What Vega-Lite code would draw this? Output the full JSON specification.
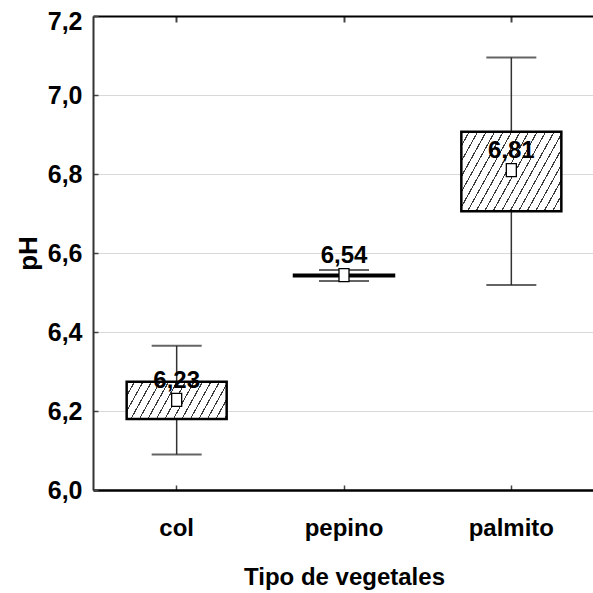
{
  "$schema": "https://vega.github.io/schema/vega-lite/v6.json",
  "width": 502,
  "height": 474,
  "autosize": {"type": "none"},
  "padding": {"left": 93, "top": 16, "right": 0, "bottom": 103},
  "background": "white",
  "config": {
    "locale": {"number": {"decimal": ",", "thousands": ".", "grouping": [3], "currency": ["", " €"]}},
    "view": {"stroke": null},
    "font": "Liberation Sans",
    "axisY": {
      "orient": "left", "tickCount": 7, "format": ".1f", "grid": true, "gridColor": "#d9d9d9", "gridWidth": 1.2,
      "tickSize": -5, "tickColor": "#444444", "tickWidth": 1.5, "domainColor": "#333333", "domainWidth": 2,
      "labelFontSize": 25, "labelFontWeight": "bold", "labelColor": "black", "labelPadding": 16,
      "labelOffset": {"condition": {"test": "datum.value > 7.1", "value": 5}, "value": 0},
      "labelFont": "Liberation Sans", "labelOverlap": false,
      "titleFontSize": 26, "titleFontWeight": "bold", "titleColor": "black", "titleFont": "Liberation Sans",
      "titleAngle": -90, "titleBaseline": "alphabetic", "titleX": -57, "titleY": 237, "titleAlign": "center"
    }
  },
  "data": {
    "values": [
      {"tipo": "col", "min": 6.09, "q1": 6.18, "q3": 6.274, "max": 6.365, "mean": 6.228},
      {"tipo": "pepino", "min": 6.529, "q1": 6.541, "q3": 6.545, "max": 6.557, "mean": 6.544},
      {"tipo": "palmito", "min": 6.519, "q1": 6.706, "q3": 6.907, "max": 7.095, "mean": 6.81}
    ]
  },
  "layer": [
    {
      "mark": {"type": "rule", "color": "#333333", "strokeWidth": 1.5},
      "encoding": {
        "x": {"field": "tipo", "type": "nominal", "sort": ["col", "pepino", "palmito"],
          "scale": {"paddingInner": 0, "paddingOuter": 0},
          "axis": {"orient": "bottom", "labelAngle": 0, "labelFontSize": 24, "labelFontWeight": "bold", "labelColor": "black",
            "labelFont": "Liberation Sans",
            "labelBaseline": "alphabetic", "labelPadding": 50, "tickSize": -5, "tickColor": "#444444", "tickWidth": 1.5,
            "domainColor": "black", "domainWidth": 2.5, "grid": false,
            "title": "Tipo de vegetales", "titleFontSize": 24, "titleFontWeight": "bold", "titleColor": "black",
            "titleFont": "Liberation Sans",
            "titleBaseline": "alphabetic", "titleY": 94, "titleX": 251}},
        "y": {"field": "min", "type": "quantitative", "title": "pH", "scale": {"domain": [6.0, 7.2], "nice": false, "zero": false}},
        "y2": {"field": "max"}
      }
    },
    {
      "mark": {"type": "tick", "orient": "horizontal", "size": 50, "thickness": 2, "color": "#222222"},
      "encoding": {
        "x": {"field": "tipo", "type": "nominal", "sort": ["col", "pepino", "palmito"],
          "axis": {"orient": "top", "labels": false, "title": null, "grid": false, "tickSize": -6, "tickColor": "#444444", "tickWidth": 2,
            "domainColor": "black", "domainWidth": 2}},
        "y": {"field": "min", "type": "quantitative", "title": "pH"}
      }
    },
    {
      "mark": {"type": "tick", "orient": "horizontal", "size": 50, "thickness": 2, "color": "#222222"},
      "encoding": {
        "x": {"field": "tipo", "type": "nominal", "sort": ["col", "pepino", "palmito"], "axis": null},
        "y": {"field": "max", "type": "quantitative", "title": "pH"}
      }
    },
    {
      "transform": [{"filter": "datum.tipo === 'col'"}],
      "mark": {"type": "bar", "size": 100, "stroke": "black", "strokeWidth": 2.5,
        "fill": {"gradient": "linear", "x1": 0, "y1": 0, "x2": 1.4676, "y2": 0.30272,
          "stops": [
            {"offset": 0, "color": "#ffffff"}, {"offset": 0.0472, "color": "#ffffff"}, {"offset": 0.0472, "color": "#3a3a3a"}, {"offset": 0.0556, "color": "#3a3a3a"},
            {"offset": 0.0556, "color": "#ffffff"}, {"offset": 0.1028, "color": "#ffffff"}, {"offset": 0.1028, "color": "#3a3a3a"}, {"offset": 0.1111, "color": "#3a3a3a"},
            {"offset": 0.1111, "color": "#ffffff"}, {"offset": 0.1583, "color": "#ffffff"}, {"offset": 0.1583, "color": "#3a3a3a"}, {"offset": 0.1667, "color": "#3a3a3a"},
            {"offset": 0.1667, "color": "#ffffff"}, {"offset": 0.2139, "color": "#ffffff"}, {"offset": 0.2139, "color": "#3a3a3a"}, {"offset": 0.2222, "color": "#3a3a3a"},
            {"offset": 0.2222, "color": "#ffffff"}, {"offset": 0.2694, "color": "#ffffff"}, {"offset": 0.2694, "color": "#3a3a3a"}, {"offset": 0.2778, "color": "#3a3a3a"},
            {"offset": 0.2778, "color": "#ffffff"}, {"offset": 0.325, "color": "#ffffff"}, {"offset": 0.325, "color": "#3a3a3a"}, {"offset": 0.3333, "color": "#3a3a3a"},
            {"offset": 0.3333, "color": "#ffffff"}, {"offset": 0.3806, "color": "#ffffff"}, {"offset": 0.3806, "color": "#3a3a3a"}, {"offset": 0.3889, "color": "#3a3a3a"},
            {"offset": 0.3889, "color": "#ffffff"}, {"offset": 0.4361, "color": "#ffffff"}, {"offset": 0.4361, "color": "#3a3a3a"}, {"offset": 0.4444, "color": "#3a3a3a"},
            {"offset": 0.4444, "color": "#ffffff"}, {"offset": 0.4917, "color": "#ffffff"}, {"offset": 0.4917, "color": "#3a3a3a"}, {"offset": 0.5, "color": "#3a3a3a"},
            {"offset": 0.5, "color": "#ffffff"}, {"offset": 0.5472, "color": "#ffffff"}, {"offset": 0.5472, "color": "#3a3a3a"}, {"offset": 0.5556, "color": "#3a3a3a"},
            {"offset": 0.5556, "color": "#ffffff"}, {"offset": 0.6028, "color": "#ffffff"}, {"offset": 0.6028, "color": "#3a3a3a"}, {"offset": 0.6111, "color": "#3a3a3a"},
            {"offset": 0.6111, "color": "#ffffff"}, {"offset": 0.6583, "color": "#ffffff"}, {"offset": 0.6583, "color": "#3a3a3a"}, {"offset": 0.6667, "color": "#3a3a3a"},
            {"offset": 0.6667, "color": "#ffffff"}, {"offset": 0.7139, "color": "#ffffff"}, {"offset": 0.7139, "color": "#3a3a3a"}, {"offset": 0.7222, "color": "#3a3a3a"},
            {"offset": 0.7222, "color": "#ffffff"}, {"offset": 0.7694, "color": "#ffffff"}, {"offset": 0.7694, "color": "#3a3a3a"}, {"offset": 0.7778, "color": "#3a3a3a"},
            {"offset": 0.7778, "color": "#ffffff"}, {"offset": 0.825, "color": "#ffffff"}, {"offset": 0.825, "color": "#3a3a3a"}, {"offset": 0.8333, "color": "#3a3a3a"},
            {"offset": 0.8333, "color": "#ffffff"}, {"offset": 0.8806, "color": "#ffffff"}, {"offset": 0.8806, "color": "#3a3a3a"}, {"offset": 0.8889, "color": "#3a3a3a"},
            {"offset": 0.8889, "color": "#ffffff"}, {"offset": 0.9361, "color": "#ffffff"}, {"offset": 0.9361, "color": "#3a3a3a"}, {"offset": 0.9444, "color": "#3a3a3a"},
            {"offset": 0.9444, "color": "#ffffff"}, {"offset": 0.9917, "color": "#ffffff"}, {"offset": 0.9917, "color": "#3a3a3a"}, {"offset": 1, "color": "#3a3a3a"}
          ]}},
      "encoding": {
        "x": {"field": "tipo", "type": "nominal", "sort": ["col", "pepino", "palmito"], "axis": null},
        "y": {"field": "q1", "type": "quantitative", "title": "pH"},
        "y2": {"field": "q3"}
      }
    },
    {
      "transform": [{"filter": "datum.tipo === 'pepino'"}],
      "mark": {"type": "bar", "size": 100, "stroke": "black", "strokeWidth": 2.5, "fill": "#555555"},
      "encoding": {
        "x": {"field": "tipo", "type": "nominal", "sort": ["col", "pepino", "palmito"], "axis": null},
        "y": {"field": "q1", "type": "quantitative", "title": "pH"},
        "y2": {"field": "q3"}
      }
    },
    {
      "transform": [{"filter": "datum.tipo === 'palmito'"}],
      "mark": {"type": "bar", "size": 100, "stroke": "black", "strokeWidth": 2.5,
        "fill": {"gradient": "linear", "x1": 0, "y1": 0, "x2": 1.2808, "y2": 0.56498,
          "stops": [
            {"offset": 0, "color": "#ffffff"}, {"offset": 0.0472, "color": "#ffffff"}, {"offset": 0.0472, "color": "#3a3a3a"}, {"offset": 0.0556, "color": "#3a3a3a"},
            {"offset": 0.0556, "color": "#ffffff"}, {"offset": 0.1028, "color": "#ffffff"}, {"offset": 0.1028, "color": "#3a3a3a"}, {"offset": 0.1111, "color": "#3a3a3a"},
            {"offset": 0.1111, "color": "#ffffff"}, {"offset": 0.1583, "color": "#ffffff"}, {"offset": 0.1583, "color": "#3a3a3a"}, {"offset": 0.1667, "color": "#3a3a3a"},
            {"offset": 0.1667, "color": "#ffffff"}, {"offset": 0.2139, "color": "#ffffff"}, {"offset": 0.2139, "color": "#3a3a3a"}, {"offset": 0.2222, "color": "#3a3a3a"},
            {"offset": 0.2222, "color": "#ffffff"}, {"offset": 0.2694, "color": "#ffffff"}, {"offset": 0.2694, "color": "#3a3a3a"}, {"offset": 0.2778, "color": "#3a3a3a"},
            {"offset": 0.2778, "color": "#ffffff"}, {"offset": 0.325, "color": "#ffffff"}, {"offset": 0.325, "color": "#3a3a3a"}, {"offset": 0.3333, "color": "#3a3a3a"},
            {"offset": 0.3333, "color": "#ffffff"}, {"offset": 0.3806, "color": "#ffffff"}, {"offset": 0.3806, "color": "#3a3a3a"}, {"offset": 0.3889, "color": "#3a3a3a"},
            {"offset": 0.3889, "color": "#ffffff"}, {"offset": 0.4361, "color": "#ffffff"}, {"offset": 0.4361, "color": "#3a3a3a"}, {"offset": 0.4444, "color": "#3a3a3a"},
            {"offset": 0.4444, "color": "#ffffff"}, {"offset": 0.4917, "color": "#ffffff"}, {"offset": 0.4917, "color": "#3a3a3a"}, {"offset": 0.5, "color": "#3a3a3a"},
            {"offset": 0.5, "color": "#ffffff"}, {"offset": 0.5472, "color": "#ffffff"}, {"offset": 0.5472, "color": "#3a3a3a"}, {"offset": 0.5556, "color": "#3a3a3a"},
            {"offset": 0.5556, "color": "#ffffff"}, {"offset": 0.6028, "color": "#ffffff"}, {"offset": 0.6028, "color": "#3a3a3a"}, {"offset": 0.6111, "color": "#3a3a3a"},
            {"offset": 0.6111, "color": "#ffffff"}, {"offset": 0.6583, "color": "#ffffff"}, {"offset": 0.6583, "color": "#3a3a3a"}, {"offset": 0.6667, "color": "#3a3a3a"},
            {"offset": 0.6667, "color": "#ffffff"}, {"offset": 0.7139, "color": "#ffffff"}, {"offset": 0.7139, "color": "#3a3a3a"}, {"offset": 0.7222, "color": "#3a3a3a"},
            {"offset": 0.7222, "color": "#ffffff"}, {"offset": 0.7694, "color": "#ffffff"}, {"offset": 0.7694, "color": "#3a3a3a"}, {"offset": 0.7778, "color": "#3a3a3a"},
            {"offset": 0.7778, "color": "#ffffff"}, {"offset": 0.825, "color": "#ffffff"}, {"offset": 0.825, "color": "#3a3a3a"}, {"offset": 0.8333, "color": "#3a3a3a"},
            {"offset": 0.8333, "color": "#ffffff"}, {"offset": 0.8806, "color": "#ffffff"}, {"offset": 0.8806, "color": "#3a3a3a"}, {"offset": 0.8889, "color": "#3a3a3a"},
            {"offset": 0.8889, "color": "#ffffff"}, {"offset": 0.9361, "color": "#ffffff"}, {"offset": 0.9361, "color": "#3a3a3a"}, {"offset": 0.9444, "color": "#3a3a3a"},
            {"offset": 0.9444, "color": "#ffffff"}, {"offset": 0.9917, "color": "#ffffff"}, {"offset": 0.9917, "color": "#3a3a3a"}, {"offset": 1, "color": "#3a3a3a"}
          ]}},
      "encoding": {
        "x": {"field": "tipo", "type": "nominal", "sort": ["col", "pepino", "palmito"], "axis": null},
        "y": {"field": "q1", "type": "quantitative", "title": "pH"},
        "y2": {"field": "q3"}
      }
    },
    {
      "mark": {"type": "point", "shape": "M-0.77,-1H0.77V1H-0.77Z", "size": 169, "filled": true, "fill": "white", "stroke": "black", "strokeWidth": 1.3, "opacity": 1},
      "encoding": {
        "x": {"field": "tipo", "type": "nominal", "sort": ["col", "pepino", "palmito"], "axis": null},
        "y": {"field": "mean", "type": "quantitative", "title": "pH"}
      }
    },
    {
      "mark": {"type": "text", "fontSize": 24, "fontWeight": "bold", "font": "Liberation Sans", "baseline": "alphabetic", "dy": -12, "color": "black"},
      "encoding": {
        "x": {"field": "tipo", "type": "nominal", "sort": ["col", "pepino", "palmito"], "axis": null},
        "y": {"field": "mean", "type": "quantitative", "title": "pH"},
        "text": {"field": "mean", "type": "quantitative", "format": ".2f"}
      }
    }
  ]
}
